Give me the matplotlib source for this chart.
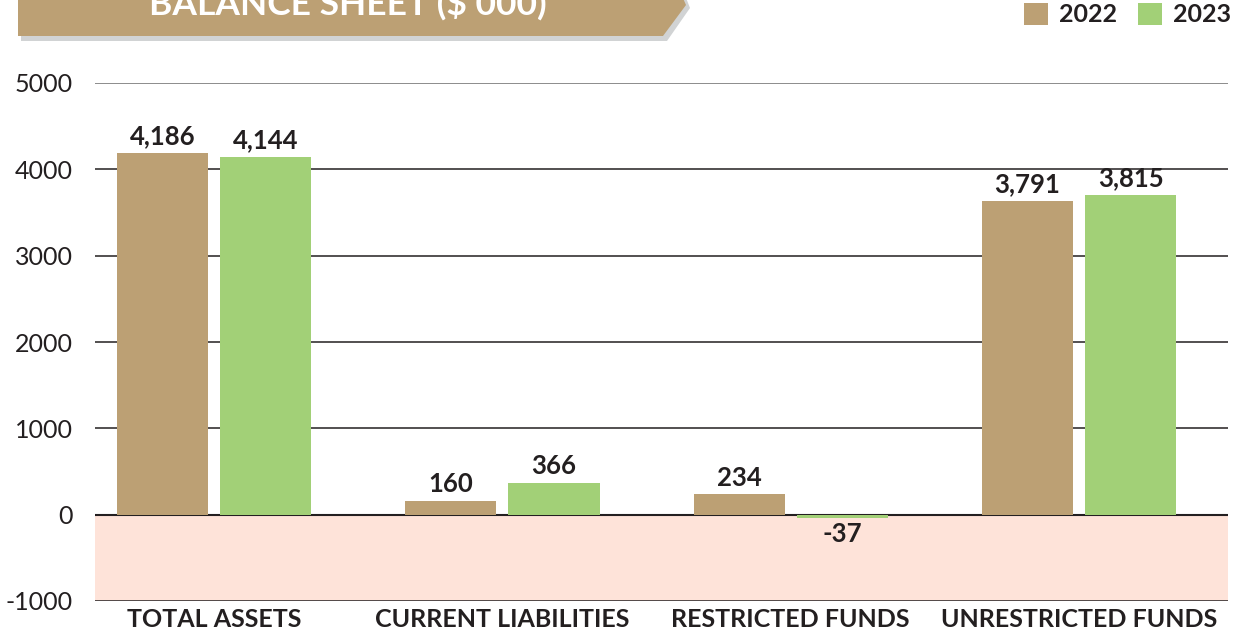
import matplotlib
matplotlib.use("Agg")
import matplotlib.pyplot as plt
from matplotlib.patches import Polygon, Patch
import numpy as np

categories = ["TOTAL ASSETS", "CURRENT LIABILITIES", "RESTRICTED FUNDS", "UNRESTRICTED FUNDS"]
series_names = ["2022", "2023"]
bars_2022 = [4186, 160, 234, 3631]
bars_2023 = [4144, 366, -40, 3700]
labels_2022 = ["4,186", "160", "234", "3,791"]
labels_2023 = ["4,144", "366", "-37", "3,815"]
yticks = [-1000, 0, 1000, 2000, 3000, 4000, 5000]

C22 = "#BCA074"
C23 = "#A2D077"
PINK = "#FEE3D9"
TXT = "#231F20"
FONT = "Lato"

W, H = 1240, 634
fig = plt.figure(figsize=(W / 100, H / 100), dpi=100)
ax = fig.add_axes([95 / W, 1 - 601 / H, (1228 - 95) / W, (601 - 83) / H])

x = np.arange(len(categories))
bw = 0.316
off = 0.179
ax.set_xlim(-0.413, 3.517)
ax.set_ylim(-1000, 5000)

ax.axhspan(-1000, 0, color=PINK, zorder=0, lw=0)
for t in yticks:
    if t == 5000:
        ax.axhline(t, color="#8C8C8C", lw=1.4, zorder=1)
    elif t == 0:
        ax.axhline(t, color=TXT, lw=1.5, zorder=1.5)
    else:
        ax.axhline(t, color=TXT, lw=1.1, zorder=1)

b1 = ax.bar(x - off, bars_2022, bw, color=C22, zorder=2)
b2 = ax.bar(x + off, bars_2023, bw, color=C23, zorder=2)

for bars, labs in ((b1, labels_2022), (b2, labels_2023)):
    for rect, lab in zip(bars, labs):
        h = rect.get_height()
        cx = rect.get_x() + rect.get_width() / 2
        if h >= 0:
            ax.annotate(lab, (cx, h), xytext=(0, 3.5), textcoords="offset points",
                        ha="center", va="bottom", fontsize=18.5, fontweight="bold",
                        color=TXT, family=FONT)
        else:
            ax.annotate(lab, (cx, h), xytext=(0, -2.5), textcoords="offset points",
                        ha="center", va="top", fontsize=18.5, fontweight="bold",
                        color=TXT, family=FONT)

for s in ax.spines.values():
    s.set_visible(False)
ax.set_yticks(yticks)
ax.set_yticklabels([str(t) for t in yticks], fontsize=18, color=TXT, family=FONT)
ax.tick_params(axis="y", length=0, pad=16)
ax.set_xticks(x)
ax.set_xticklabels(categories, fontsize=18, fontweight="bold", color=TXT, family=FONT)
ax.tick_params(axis="x", length=0, pad=5)

# Title banner
def px(xp, yp):
    return (xp / W, 1 - yp / H)

shadow = Polygon([px(21, -20), px(679, -20), px(690, 8), px(667, 41), px(21, 41)],
                 closed=True, transform=fig.transFigure, facecolor="#D1D3D4",
                 edgecolor="none", zorder=0)
banner = Polygon([px(18, -20), px(675, -20), px(686, 5), px(663, 36), px(18, 36)],
                 closed=True, transform=fig.transFigure, facecolor=C22,
                 edgecolor="none", zorder=1)
fig.add_artist(shadow)
fig.add_artist(banner)
fig.text(348 / W, 1 - 15 / H, "BALANCE SHEET ($ 000)", ha="center", va="baseline",
         fontsize=25.5, fontweight="bold", color="white", family=FONT)

handles = [Patch(facecolor=C22, edgecolor="none"), Patch(facecolor=C23, edgecolor="none")]
fig.legend(handles, series_names, loc="upper right", bbox_to_anchor=(1231 / W, 1 - 3 / H),
           ncol=2, frameon=False, borderpad=0, borderaxespad=0,
           handlelength=0.95, handleheight=0.95, handletextpad=0.45, columnspacing=0.85,
           prop={"family": FONT, "weight": "bold", "size": 18}, labelcolor=TXT)

fig.savefig("out.png", dpi=100)
